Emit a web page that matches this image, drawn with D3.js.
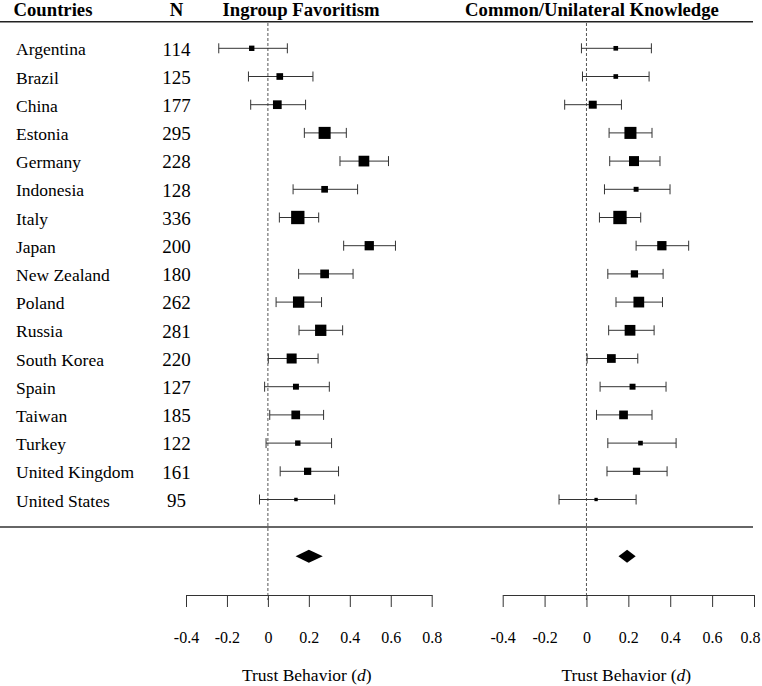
<!DOCTYPE html>
<html>
<head>
<meta charset="utf-8">
<script src="https://cdn.jsdelivr.net/npm/d3@7"></script>
<style>
  html, body { margin: 0; padding: 0; background: #fff; }
  svg { display: block; }
  svg text { font-family: "Liberation Serif", "Times New Roman", serif !important; fill: #000; }
</style>
</head>
<body>
<svg id="chart" width="762" height="686"></svg>
<script>
// ---------------- DATA ----------------
const countries = ["Argentina","Brazil","China","Estonia","Germany","Indonesia","Italy","Japan",
  "New Zealand","Poland","Russia","South Korea","Spain","Taiwan","Turkey","United Kingdom","United States"];
const sampleN = [114,125,177,295,228,128,336,200,180,262,281,220,127,185,122,161,95];

// Ingroup Favoritism: effect size d, lower and upper CI, relative weight (%)
const ingroupD     = [-0.079, 0.058, 0.046, 0.277, 0.469, 0.277, 0.146, 0.495, 0.277, 0.150, 0.258, 0.116, 0.137, 0.136, 0.146, 0.194, 0.137];
const ingroupLower = [-0.240,-0.095,-0.084, 0.178, 0.352, 0.123, 0.056, 0.370, 0.150, 0.040, 0.152, 0.002,-0.016, 0.009,-0.009, 0.060,-0.041];
const ingroupUpper = [ 0.095, 0.220, 0.184, 0.383, 0.589, 0.438, 0.248, 0.623, 0.416, 0.262, 0.365, 0.245, 0.300, 0.272, 0.311, 0.345, 0.326];
const ingroupWeight= [3.7, 4.6, 6.0, 8.3, 7.4, 4.6, 9.2, 6.4, 6.0, 7.8, 7.8, 6.9, 4.1, 6.0, 3.7, 5.0, 2.4];
const ingroupSummary = {d: 0.200, lower: 0.135, upper: 0.268};

// Common/Unilateral Knowledge
const commonD     = [0.140, 0.140, 0.030, 0.210, 0.227, 0.237, 0.160, 0.360, 0.229, 0.250, 0.208, 0.119, 0.220, 0.177, 0.258, 0.239, 0.046];
const commonLower = [-0.024,-0.019,-0.104, 0.108, 0.111, 0.086, 0.062, 0.237, 0.102, 0.141, 0.106, 0.003, 0.065, 0.048, 0.102, 0.098,-0.131];
const commonUpper = [0.310, 0.299, 0.167, 0.313, 0.351, 0.399, 0.259, 0.488, 0.366, 0.363, 0.323, 0.245, 0.380, 0.313, 0.428, 0.385, 0.237];
const commonWeight= [3.2, 3.2, 5.5, 8.3, 6.9, 3.4, 9.2, 6.4, 5.0, 7.4, 7.4, 6.0, 4.1, 6.0, 3.2, 5.0, 2.3];
const commonSummary = {d: 0.194, lower: 0.153, upper: 0.235};

const tickValues = [-0.4, -0.2, 0, 0.2, 0.4, 0.6, 0.8];
const panelTitles = ["Ingroup Favoritism", "Common/Unilateral Knowledge"];
const axisTitle = "Trust Behavior";

// ---------------- DRAW ----------------
const svg = d3.select("#chart");
const SERIF = '"Liberation Serif", "Times New Roman", serif';

const y = d3.scalePoint().domain(countries).range([48.3, 499.5]);
const wScale = d3.scaleLinear().domain([0, 10]).range([0, 14.5]);

const axisY = 595, summaryY = 556.3;

// top / separator lines
svg.append("line").attr("x1", 0).attr("x2", 753).attr("y1", 21.7).attr("y2", 21.7)
  .attr("stroke", "#222").attr("stroke-width", 1.6);
svg.append("line").attr("x1", 0).attr("x2", 753).attr("y1", 527).attr("y2", 527)
  .attr("stroke", "#333").attr("stroke-width", 1.4);

// headers
svg.append("text").attr("x", 13.5).attr("y", 16).attr("font-size", 18.7).attr("font-weight", "bold")
  .style("font-family", SERIF).text("Countries");
svg.append("text").attr("x", 176.5).attr("y", 16).attr("font-size", 18.7).attr("font-weight", "bold")
  .style("font-family", SERIF).attr("text-anchor", "middle").text("N");

// country labels and N
svg.append("g").selectAll("text").data(countries).join("text")
  .attr("x", 16).attr("y", d => y(d) + 7).attr("font-size", 17.5).style("font-family", SERIF).text(d => d);
svg.append("g").selectAll("text").data(countries).join("text")
  .attr("x", 176.5).attr("y", d => y(d) + 7.2).attr("font-size", 19).attr("text-anchor", "middle")
  .style("font-family", SERIF).text((d, i) => sampleN[i]);

function panel(xRange, titleX, dVals, lo, hi, wts, summary, title, lastDx) {
  const x = d3.scaleLinear().domain([-0.4, 0.8]).range(xRange);
  const g = svg.append("g");

  g.append("text").attr("x", titleX).attr("y", 16).attr("font-size", 18.7).attr("font-weight", "bold")
    .style("font-family", SERIF).attr("text-anchor", "middle").text(title);

  // null line
  g.append("line").attr("x1", x(0)).attr("x2", x(0)).attr("y1", 23).attr("y2", axisY + 5)
    .attr("stroke", "#555").attr("stroke-width", 1).attr("stroke-dasharray", "3,2");

  const rows = countries.map((c, i) => ({c, d: dVals[i], lo: lo[i], hi: hi[i], w: wts[i]}));
  const rg = g.append("g").selectAll("g").data(rows).join("g");
  rg.append("line").attr("x1", r => x(r.lo)).attr("x2", r => x(r.hi))
    .attr("y1", r => y(r.c)).attr("y2", r => y(r.c)).attr("stroke", "#333").attr("stroke-width", 1);
  rg.append("line").attr("x1", r => x(r.lo)).attr("x2", r => x(r.lo))
    .attr("y1", r => y(r.c) - 5).attr("y2", r => y(r.c) + 5).attr("stroke", "#333").attr("stroke-width", 1);
  rg.append("line").attr("x1", r => x(r.hi)).attr("x2", r => x(r.hi))
    .attr("y1", r => y(r.c) - 5).attr("y2", r => y(r.c) + 5).attr("stroke", "#333").attr("stroke-width", 1);
  rg.append("rect")
    .attr("x", r => x(r.d) - wScale(r.w) / 2).attr("y", r => y(r.c) - wScale(r.w) / 2)
    .attr("width", r => wScale(r.w)).attr("height", r => wScale(r.w)).attr("fill", "#000");

  // summary diamond
  const pts = [[x(summary.lower), summaryY], [x(summary.d), summaryY - 6.5],
               [x(summary.upper), summaryY], [x(summary.d), summaryY + 6.5]];
  g.append("path").attr("d", "M" + pts.map(p => p.join(",")).join("L") + "Z").attr("fill", "#000");

  // axis
  const axis = d3.axisBottom(x).tickValues(tickValues).tickSize(12).tickSizeOuter(0).tickPadding(25)
    .tickFormat(d => d === 0 ? "0" : d.toFixed(1));
  const ag = g.append("g").attr("transform", `translate(0,${axisY})`).call(axis)
    .attr("font-family", null).attr("font-size", null);
  ag.select(".domain").attr("stroke", "#333");
  ag.selectAll(".tick line").attr("stroke", "#333");
  ag.selectAll(".tick text").style("font-family", SERIF).attr("font-size", 16).attr("fill", "#000")
    .attr("dx", d => d === 0.8 ? lastDx : 0);

  const t = g.append("text").attr("x", x(0.19)).attr("y", 681).attr("font-size", 17.5)
    .style("font-family", SERIF).attr("text-anchor", "middle");
  t.append("tspan").text(axisTitle + " (");
  t.append("tspan").attr("font-style", "italic").text("d");
  t.append("tspan").text(")");
}

panel([186, 431.7], 301, ingroupD, ingroupLower, ingroupUpper, ingroupWeight, ingroupSummary, panelTitles[0], 0);
panel([502.7, 754], 592, commonD, commonLower, commonUpper, commonWeight, commonSummary, panelTitles[1], -4);
</script>
</body>
</html>
